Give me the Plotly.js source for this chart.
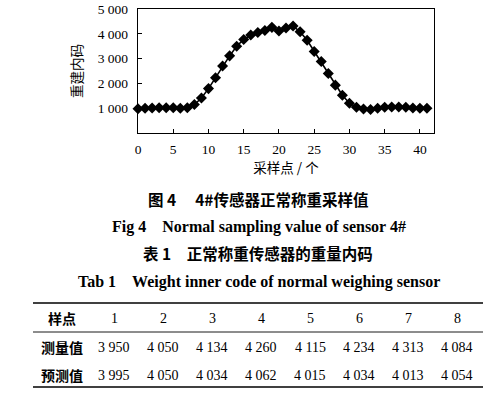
<!DOCTYPE html>
<html>
<head>
<meta charset="utf-8">
<script src="https://cdn.plot.ly/plotly-3.0.1.min.js"></script>
<style>html,body{margin:0;padding:0;background:#fff;}#chart{width:488px;height:396px;}</style>
</head>
<body>
<div id="chart"></div>
<script>
// ---- data ----
const samplePoints = [0,1,2,3,4,5,6,7,8,9,10,11,12,13,14,15,16,17,18,19,20,21,22,23,24,25,26,27,28,29,30,31,32,33,34,35,36,37,38,39,40,41];
const innerCode = [980,1000,1010,1020,1020,1020,1000,1020,1150,1410,1790,2230,2700,3110,3500,3770,
                   3950,4050,4134,4260,4115,4234,4313,4084,
                   3740,3290,2880,2400,1930,1520,1200,1040,970,950,1000,1040,1050,1050,1040,1010,1000,1000];
const xTicks = [0,5,10,15,20,25,30,35,40];
const yTicks = [1000,2000,3000,4000,5000];

const tableHeader = ['样点','1','2','3','4','5','6','7','8'];
const measuredLabel = '测量值';
const measured = [3950,4050,4134,4260,4115,4234,4313,4084];
const predictedLabel = '预测值';
const predicted = [3995,4050,4034,4062,4015,4034,4013,4054];

const yAxisTitle = '重建内码';
const xAxisTitle = '采样点 / 个';
const captionCN = '图 4\u2003 4#传感器正常称重采样值';
const captionEN = 'Fig 4\u2003Normal sampling value of sensor 4#';
const tableTitleCN = '表 1\u2003正常称重传感器的重量内码';
const tableTitleEN = 'Tab 1\u2003Weight inner code of normal weighing sensor';

// ---- layout helpers (pixel -> paper) ----
const L = 138, T = 9, W = 296, H = 124;
const PX = p => (p - L) / W;
const PY = p => (T + H - p) / H;
const fmt = n => String(n).replace(/\B(?=(\d{3})+(?!\d))/g, ' ');

const serif = 'Liberation Serif, Times New Roman, serif';
const cjk = 'Noto Sans CJK SC, sans-serif';

const annotations = [];
const shapes = [];
function txt(text, px, py, font) {
  annotations.push({text: text, x: PX(px), y: PY(py), xref: 'paper', yref: 'paper',
    xanchor: 'center', yanchor: 'middle', showarrow: false, font: font});
}
// captions
txt(captionCN, 258, 199, {family: cjk, size: 15.5, color: '#000', weight: 'bold'});
txt(captionEN, 259, 227, {family: serif, size: 16, color: '#000', weight: 'bold'});
txt(tableTitleCN, 258, 253, {family: cjk, size: 15.5, color: '#000', weight: 'bold'});
txt(tableTitleEN, 259, 282, {family: serif, size: 16, color: '#000', weight: 'bold'});

// table
const rowY = [318, 347, 375];
const labelX = 62, colX0 = 114, colStep = 49;
const labFont = {family: cjk, size: 14, color: '#000', weight: 'bold'};
const numFont = {family: serif, size: 14, color: '#000'};
txt(tableHeader[0], labelX, rowY[0], labFont);
for (let i = 1; i < tableHeader.length; i++) txt(tableHeader[i], colX0 + (i - 1) * colStep, rowY[0], numFont);
txt(measuredLabel, labelX, rowY[1], labFont);
measured.forEach((v, i) => txt(fmt(v), colX0 + i * colStep, rowY[1], numFont));
txt(predictedLabel, labelX, rowY[2], labFont);
predicted.forEach((v, i) => txt(fmt(v), colX0 + i * colStep, rowY[2], numFont));

function rule(py, w) {
  shapes.push({type: 'line', xref: 'paper', yref: 'paper', x0: PX(33), x1: PX(483), y0: PY(py), y1: PY(py),
    line: {color: '#000', width: w}});
}
rule(303, 1.6);
rule(332, 0.9);
rule(387, 1.6);

const trace = {
  x: samplePoints, y: innerCode, type: 'scatter', mode: 'lines+markers',
  line: {color: '#000', width: 1.6},
  marker: {symbol: 'diamond', size: 8.5, color: '#000'},
  hoverinfo: 'skip', cliponaxis: false
};

const layout = {
  width: 488, height: 396,
  margin: {l: L, r: 488 - L - W, t: T, b: 396 - T - H, pad: 0},
  paper_bgcolor: '#fff', plot_bgcolor: '#fff',
  showlegend: false,
  separators: '. ',
  xaxis: {
    range: [0, 42], tickvals: xTicks, ticktext: xTicks.map(String),
    ticks: 'inside', ticklen: 4, tickwidth: 1, tickcolor: '#000',
    showline: true, linecolor: '#000', linewidth: 1.3, mirror: true,
    showgrid: false, zeroline: false,
    tickfont: {family: serif, size: 13.5, color: '#000'},
    ticklabelstandoff: 3,
    title: {text: xAxisTitle, font: {family: cjk, size: 13.5, color: '#000'}, standoff: 8}
  },
  yaxis: {
    range: [0, 5000], tickvals: yTicks, tickformat: ',d',
    ticks: 'inside', ticklen: 4, tickwidth: 1, tickcolor: '#000',
    showline: true, linecolor: '#000', linewidth: 1.3, mirror: true,
    showgrid: false, zeroline: false,
    tickfont: {family: serif, size: 13.5, color: '#000'},
    ticklabelstandoff: 6,
    title: {text: yAxisTitle, font: {family: cjk, size: 13.5, color: '#000'}, standoff: 12}
  },
  annotations: annotations,
  shapes: shapes
};

Plotly.newPlot('chart', [trace], layout, {staticPlot: true, displayModeBar: false});
</script>
</body>
</html>
